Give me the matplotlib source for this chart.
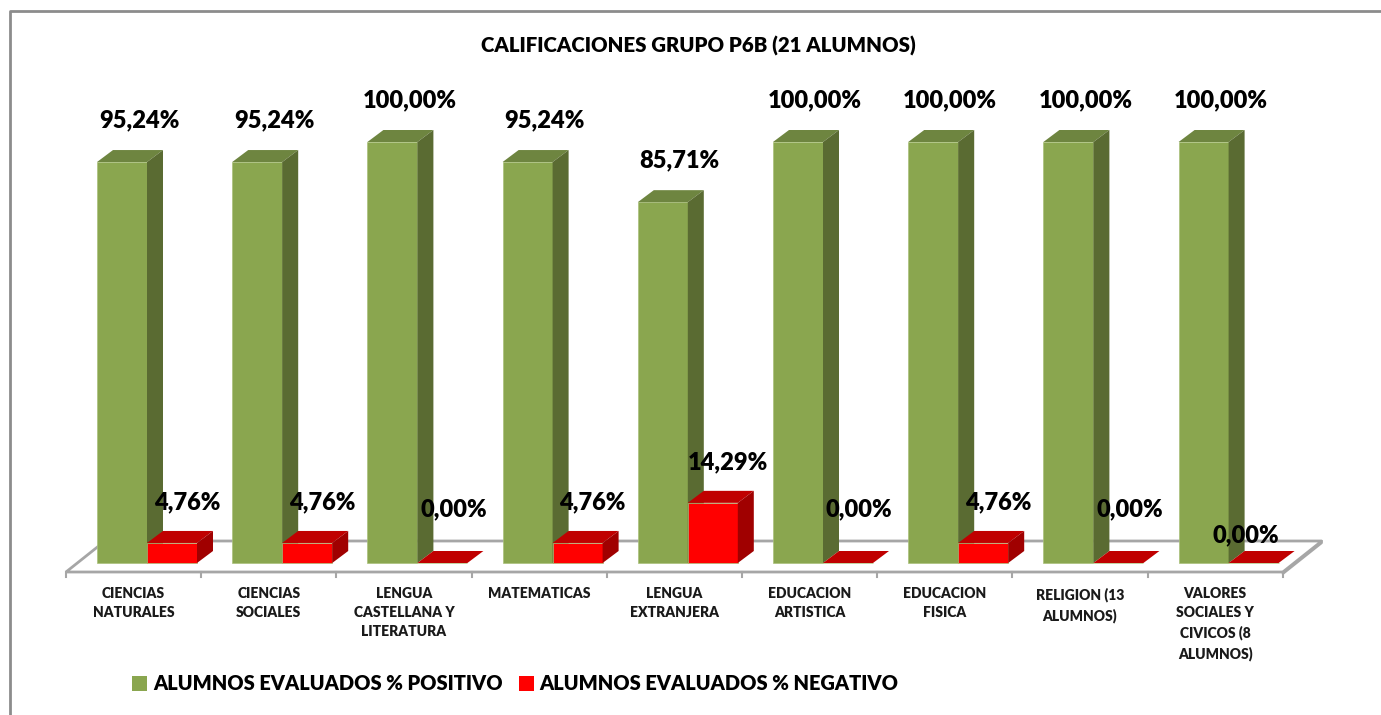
import matplotlib.pyplot as plt
from matplotlib.patches import Polygon, Patch
from matplotlib.lines import Line2D

plt.rcParams['font.family'] = ['Lato', 'DejaVu Sans']

# data
categories = ['CIENCIAS\nNATURALES', 'CIENCIAS\nSOCIALES', 'LENGUA\nCASTELLANA Y\nLITERATURA',
              'MATEMATICAS', 'LENGUA\nEXTRANJERA', 'EDUCACION\nARTISTICA', 'EDUCACION\nFISICA',
              'RELIGION (13\nALUMNOS)', 'VALORES\nSOCIALES Y\nCIVICOS (8\nALUMNOS)']
positivo = [95.24, 95.24, 100.00, 95.24, 85.71, 100.00, 100.00, 100.00, 100.00]
negativo = [4.76, 4.76, 0.00, 4.76, 14.29, 0.00, 4.76, 0.00, 0.00]
series_names = ['ALUMNOS EVALUADOS % POSITIVO', 'ALUMNOS EVALUADOS % NEGATIVO']

W, H = 1381, 715
fig = plt.figure(figsize=(W / 100, H / 100), dpi=100)

# axes laid out in pixels: x 66..1283 (9 categories), y 0% at 563 px, 100% at 142 px
cat_px = 135.2
pct_px = 4.21
ax = fig.add_axes([66 / W, (H - 563) / H, 9 * cat_px / W, 100 * pct_px / H])
ax.set_xlim(0, 9)
ax.set_ylim(0, 100)
ax.axis('off')

PX = 1 / cat_px
PY = 1 / pct_px
WT = 'heavy'

# floor slab
fy0 = -9 * PY
fy1 = 22 * PY
fdx = 39 * PX
floor = Polygon([(0, fy0), (9, fy0), (9 + fdx, fy1), (fdx, fy1)], closed=True,
                facecolor='white', edgecolor='#a6a6a6', lw=2, clip_on=False, zorder=1)
ax.add_patch(floor)
ax.plot([9, 9, 9 + fdx, 9 + fdx], [fy0, fy0 - 2 * PY, fy1 - 2 * PY, fy1], color='#a6a6a6',
        lw=1.5, clip_on=False, zorder=1)
for k in range(10):
    ax.plot([k, k], [fy0, fy0 - 5 * PY], color='#a6a6a6', lw=1.5, clip_on=False, zorder=1)

bw = 50 * PX
ddx = 16 * PX
ddy = 12 * PY
green = ('#8aa64f', '#6e8540', '#5a6b32')
red = ('#ff0000', '#c00000', '#a00000')


def bar3d(x, v, cols, z):
    ax.bar(x, v, width=bw, align='edge', color=cols[0], edgecolor='#a9c07a', lw=0.5,
           clip_on=False, zorder=z)
    ax.add_patch(Polygon([(x, v), (x + bw, v), (x + bw + ddx, v + ddy), (x + ddx, v + ddy)],
                         facecolor=cols[1], edgecolor='none', clip_on=False, zorder=z))
    ax.add_patch(Polygon([(x + bw, 0), (x + bw + ddx, ddy), (x + bw + ddx, v + ddy), (x + bw, v)],
                         facecolor=cols[2], edgecolor='none', clip_on=False, zorder=z))


def lbl(v):
    return f'{v:.2f}%'.replace('.', ',')


for i in range(len(categories)):
    gx = i + 31 * PX
    rx = gx + bw
    bar3d(gx, positivo[i], green, 2 + 2 * i)
    bar3d(rx, negativo[i], red, 3 + 2 * i)
    ax.text(gx + 42 * PX, positivo[i] + 42 * PY, lbl(positivo[i]), ha='center', va='center',
            fontsize=17, fontweight=WT, zorder=30)
    if negativo[i] > 0:
        ny = negativo[i] + 41 * PY
        nx = rx + 40 * PX
    elif i == len(categories) - 1:
        ny = 28 * PY
        nx = rx + 17 * PX
    else:
        ny = 54 * PY
        nx = rx + 36 * PX
    ax.text(nx, ny, lbl(negativo[i]), ha='center', va='center',
            fontsize=17, fontweight=WT, zorder=30)
    ax.text(i + 0.5, -24 * PY, categories[i], ha='center', va='top', fontsize=10,
            fontweight=WT, linespacing=1.55, color='#1a1a1a', zorder=30)

fig.text(698 / W, 1 - 46 / H, 'CALIFICACIONES GRUPO P6B (21 ALUMNOS)', ha='center', va='center',
         fontsize=14.7, fontweight=WT)

handles = [Patch(facecolor=green[0]), Patch(facecolor=red[0])]
fig.legend(handles, series_names, loc='center left', bbox_to_anchor=(114 / W, 1 - 684 / H),
           ncol=2, frameon=False, handlelength=0.75, handleheight=0.75, handletextpad=0.3,
           columnspacing=0.8, prop={'weight': WT, 'size': 14.4})

# chart border (top and left visible)
fig.add_artist(Line2D([9.5 / W, 9.5 / W, 1.0], [0.0, 1 - 10.5 / H, 1 - 10.5 / H],
                      transform=fig.transFigure, color='#8c8c8c', lw=2))

fig.savefig('out.png', dpi=100, facecolor='white')
